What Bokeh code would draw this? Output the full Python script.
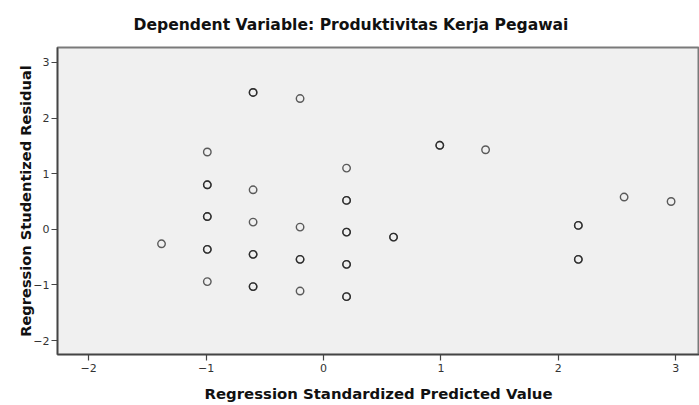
from bokeh.plotting import figure
from bokeh.models import Range1d, FixedTicker
from bokeh.embed import file_html
from bokeh.resources import INLINE

title_text = "Dependent Variable: Produktivitas Kerja Pegawai"
x_label = "Regression Standardized Predicted Value"
y_label = "Regression Studentized Residual"
x_ticks = [-2, -1, 0, 1, 2, 3]
y_ticks = [-2, -1, 0, 1, 2, 3]

# cases (overlapping cases repeated -> darker rings)
pred = [-1.38,
        -0.99, -0.99, -0.99, -0.99, -0.99, -0.99, -0.99, -0.99,
        -0.60, -0.60, -0.60, -0.60, -0.60, -0.60, -0.60, -0.60,
        -0.20, -0.20, -0.20, -0.20, -0.20,
        0.196, 0.196, 0.196, 0.196, 0.196, 0.196, 0.196, 0.196, 0.196,
        0.596, 0.596,
        0.99, 0.99,
        1.38,
        2.17, 2.17, 2.17, 2.17,
        2.56,
        2.96]
resid = [-0.26,
         1.39, 0.80, 0.80, 0.23, 0.23, -0.36, -0.36, -0.94,
         2.46, 2.46, 0.71, 0.13, -0.45, -0.45, -1.03, -1.03,
         2.35, 0.04, -0.54, -0.54, -1.11,
         1.10, 0.52, 0.52, -0.05, -0.05, -0.63, -0.63, -1.21, -1.21,
         -0.14, -0.14,
         1.51, 1.51,
         1.43,
         0.07, 0.07, -0.54, -0.54,
         0.58,
         0.50]

p = figure(width=699, height=405, output_backend="svg", toolbar_location=None,
           x_range=Range1d(-2.266, 3.202), y_range=Range1d(-2.25, 3.268),
           min_border_left=57, min_border_top=47, min_border_right=0, min_border_bottom=48,
           background_fill_color="#f0f0f0", border_fill_color="white")

p.title.text = title_text
p.title.text_font = "DejaVu Sans"
p.title.text_font_size = "15.6px"
p.title.text_font_style = "bold"
p.title.text_color = "#111111"
p.title.align = "left"
p.title.offset = 76
p.title.standoff = 27

p.outline_line_color = "#7a7a7a"
p.outline_line_width = 2

p.xgrid.visible = False
p.ygrid.visible = False

for ax, ticks, lab in ((p.xaxis[0], x_ticks, x_label), (p.yaxis[0], y_ticks, y_label)):
    ax.ticker = FixedTicker(ticks=ticks)
    ax.minor_tick_line_color = None
    ax.major_tick_in = 0
    ax.major_tick_out = 6
    ax.major_tick_line_color = "#444444"
    ax.major_tick_line_width = 1.2
    ax.axis_line_color = "#444444"
    ax.axis_line_width = 1.5
    ax.major_label_text_font = "DejaVu Sans"
    ax.major_label_text_font_size = "11px"
    ax.major_label_text_color = "#333333"
    ax.axis_label = lab
    ax.axis_label_text_font = "DejaVu Sans"
    ax.axis_label_text_font_style = "bold"
    ax.axis_label_text_color = "#111111"

p.xaxis[0].major_label_standoff = 3
p.xaxis[0].axis_label_standoff = 10
p.xaxis[0].axis_label_text_font_size = "14.9px"
p.yaxis[0].major_label_standoff = 2
p.yaxis[0].axis_label_standoff = -4
p.yaxis[0].axis_label_text_font_size = "14.6px"

p.scatter(pred, resid, marker="circle", size=7.5, fill_color=None,
          line_color="#1a1a1a", line_alpha=0.7, line_width=1.4)

open("out.html", "w").write(file_html(p, INLINE))
